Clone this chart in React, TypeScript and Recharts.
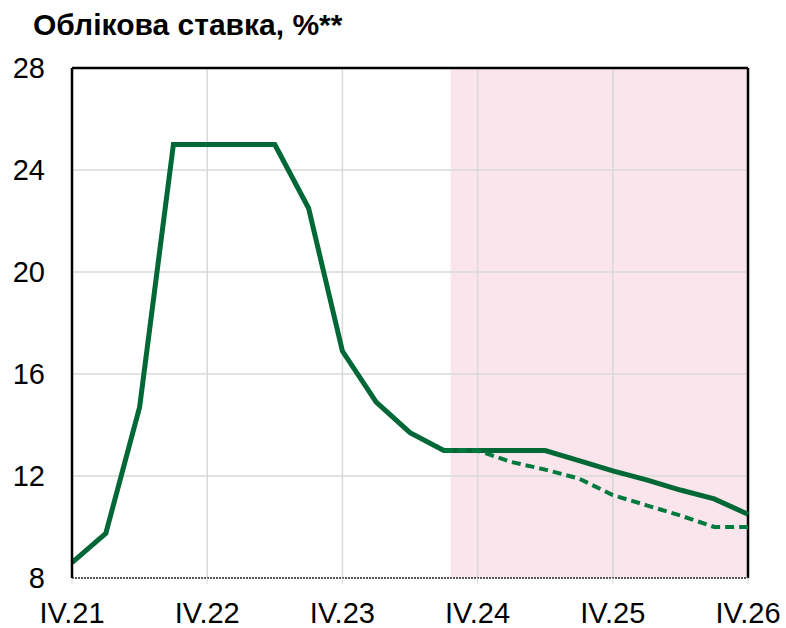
import React from "react";
import {
  LineChart,
  Line,
  XAxis,
  YAxis,
  ReferenceArea,
  ReferenceLine,
} from "recharts";

const quarters = [
  "IV.21", "I.22", "II.22", "III.22", "IV.22",
  "I.23", "II.23", "III.23", "IV.23",
  "I.24", "II.24", "III.24", "IV.24",
  "I.25", "II.25", "III.25", "IV.25",
  "I.26", "II.26", "III.26", "IV.26",
];

const rateActual = [
  8.6, 9.75, 14.7, 25, 25, 25, 25, 22.5, 16.9, 14.9, 13.7,
  13, 13, 13, 13, 12.6, 12.2, 11.85, 11.45, 11.1, 10.5,
];

const rateAlt: (number | null)[] = [
  null, null, null, null, null, null, null, null, null, null, null,
  13, 13, 12.55, 12.25, 11.9, 11.25, 10.85, 10.45, 10, 10,
];

const xTicks = [0, 4, 8, 12, 16, 20];
const yTicks = [8, 12, 16, 20, 24, 28];
const forecastStart = 11.2;
const forecastEnd = 20;

const data = quarters.map((q, i) => ({
  i,
  q,
  actual: rateActual[i],
  alt: rateAlt[i],
}));

const FONT = '"Liberation Sans", Arial, sans-serif';

export default function App() {
  return (
    <div
      style={{
        position: "absolute",
        left: 0,
        top: 0,
        width: 786,
        height: 628,
        background: "#ffffff",
        fontFamily: FONT,
      }}
    >
      <div
        style={{
          position: "absolute",
          left: 33,
          top: 10,
          fontSize: 30,
          lineHeight: "30px",
          fontWeight: "bold",
          color: "#000",
          whiteSpace: "nowrap",
        }}
      >
        Облікова ставка, %**
      </div>
      <LineChart
        width={786}
        height={628}
        data={data}
        margin={{ top: 68, right: 38, bottom: 0, left: 12 }}
        style={{ position: "absolute", left: 0, top: 0 }}
      >
        <XAxis
          dataKey="i"
          type="number"
          domain={[0, 20]}
          ticks={xTicks}
          tickFormatter={(v: number) => quarters[v]}
          height={50}
          axisLine={{ stroke: "#595959", strokeWidth: 2, strokeDasharray: "2 1" }}
          tickLine={{ stroke: "#d9d9d9", strokeWidth: 1 }}
          tickSize={6}
          tickMargin={18}
          tick={{ fill: "#000", fontSize: 29, fontFamily: FONT }}
          interval={0}
        />
        <YAxis
          type="number"
          domain={[8, 28]}
          ticks={yTicks}
          width={60}
          axisLine={{ stroke: "#000", strokeWidth: 2.5 }}
          tickLine={false}
          tickSize={0}
          tickMargin={27}
          tick={{ fill: "#000", fontSize: 29, fontFamily: FONT }}
          interval={0}
        />
        <ReferenceArea
          x1={forecastStart}
          x2={forecastEnd}
          y1={8}
          y2={28}
          fill="#fbe5ec"
          fillOpacity={1}
          stroke="none"
        />
        {yTicks.slice(1, -1).map((t) => (
          <ReferenceLine key={"y" + t} y={t} stroke="#d9d9d9" strokeWidth={1.5} />
        ))}
        {xTicks.slice(1, -1).map((t) => (
          <ReferenceLine key={"x" + t} x={t} stroke="#d9d9d9" strokeWidth={1.5} />
        ))}
        <ReferenceLine y={28} stroke="#000" strokeWidth={2.5} />
        <ReferenceLine x={20} stroke="#000" strokeWidth={2.5} />
        <Line
          dataKey="actual"
          type="linear"
          stroke="#006837"
          strokeWidth={5}
          dot={false}
          isAnimationActive={false}
        />
        <Line
          dataKey="alt"
          type="linear"
          stroke="#007a3d"
          strokeWidth={4}
          strokeDasharray="9 5"
          dot={false}
          connectNulls={false}
          isAnimationActive={false}
        />
      </LineChart>
    </div>
  );
}
